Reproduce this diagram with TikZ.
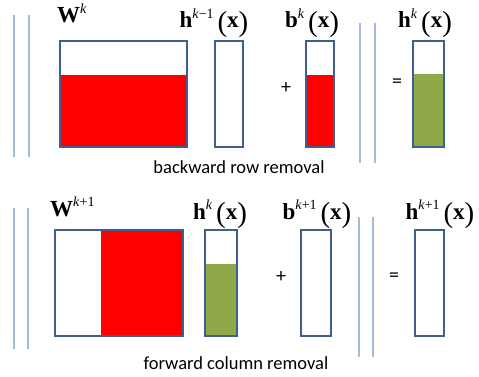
\documentclass[tikz,border=0pt]{standalone}
\usepackage{fontspec}
\setmainfont{Liberation Serif}
\newfontfamily\calfont{Carlito}
\definecolor{boxblue}{HTML}{3F5F8C}
\definecolor{sepblue}{HTML}{A3BCDD}
\definecolor{olivegreen}{HTML}{8EA84A}
\newcommand\mysup[1]{\raisebox{0.42em}{\fontsize{14}{14}\selectfont #1}}
\newcommand\mypar[1]{\raisebox{-0.17em}{\fontsize{29}{29}\selectfont #1}}
\newcommand\ofx{\,\mypar{(}\textbf{x}\mypar{)}}
\begin{document}
\begin{tikzpicture}[x=1pt,y=-1pt,
  mbox/.style={draw=boxblue,line width=2.6pt,rectangle,inner sep=0pt},
  sep/.style={draw=sepblue,line width=1.6pt},
  lbl/.style={anchor=base,inner sep=0pt,font=\fontsize{23}{23}\selectfont},
  op/.style={inner sep=0pt,font=\calfont\fontsize{20}{20}\selectfont},
  captxt/.style={anchor=base,inner sep=0pt,font=\calfont\fontsize{18.5}{18.5}\selectfont}]
\useasboundingbox (0,0) rectangle (479,377);
% ---------- top row ----------
\coordinate (s1a) at (14,15); \coordinate (s1b) at (14,157);
\coordinate (s2a) at (29,15); \coordinate (s2b) at (29,157);
\coordinate (s3a) at (360,23); \coordinate (s3b) at (360,163);
\coordinate (s4a) at (375,23); \coordinate (s4b) at (375,163);
\draw[sep] (s1a) -- (s1b); \draw[sep] (s2a) -- (s2b);
\draw[sep] (s3a) -- (s3b); \draw[sep] (s4a) -- (s4b);
\node[mbox,minimum width=127pt,minimum height=106pt] (W1) at (123.5,94) {};
\node[mbox,minimum width=28pt,minimum height=106pt] (H0) at (229,94) {};
\node[mbox,minimum width=28pt,minimum height=106pt] (B1) at (320,94) {};
\node[mbox,minimum width=31pt,minimum height=106pt] (H1) at (428.5,94) {};
\fill[red] (W1.south west) rectangle (W1.east |- 0,75);
\fill[red] (B1.south west) rectangle (B1.east |- 0,75);
\fill[olivegreen] (H1.south west) rectangle (H1.east |- 0,74);
\node[mbox,minimum width=127pt,minimum height=106pt] at (W1) {};
\node[mbox,minimum width=28pt,minimum height=106pt] at (B1) {};
\node[mbox,minimum width=31pt,minimum height=106pt] at (H1) {};
\node[lbl,anchor=base west] (lW1) at (57,23) {\textbf{W}\mysup{\textit{k}}};
\node[lbl] (lH0) at (214,28) {\textbf{h}\mysup{\textit{k}−1}\ofx};
\node[lbl] (lB1) at (312,28) {\textbf{b}\mysup{\textit{k}}\ofx};
\node[lbl] (lH1) at (425,28) {\textbf{h}\mysup{\textit{k}}\ofx};
\node[op] (plus1) at (286,88) {+};
\node[op] (eq1) at (397,83) {=};
\node[captxt] (cap1) at (239,173) {backward row removal};
% ---------- bottom row ----------
\coordinate (t1a) at (14,208); \coordinate (t1b) at (14,349);
\coordinate (t2a) at (28,208); \coordinate (t2b) at (28,349);
\coordinate (t3a) at (359,217); \coordinate (t3b) at (359,357);
\coordinate (t4a) at (373,217); \coordinate (t4b) at (373,357);
\draw[sep] (t1a) -- (t1b); \draw[sep] (t2a) -- (t2b);
\draw[sep] (t3a) -- (t3b); \draw[sep] (t4a) -- (t4b);
\node[mbox,minimum width=128pt,minimum height=106pt] (W2) at (119,283) {};
\node[mbox,minimum width=32pt,minimum height=106pt] (H2) at (221,283) {};
\node[mbox,minimum width=30pt,minimum height=106pt] (B2) at (316,283) {};
\node[mbox,minimum width=29pt,minimum height=106pt] (H3) at (429.5,283) {};
\fill[red] (W2.south east) rectangle (W2.north -| 101,0);
\fill[olivegreen] (H2.south west) rectangle (H2.east |- 0,264);
\node[mbox,minimum width=128pt,minimum height=106pt] at (W2) {};
\node[mbox,minimum width=32pt,minimum height=106pt] at (H2) {};
\node[lbl,anchor=base west] (lW2) at (50,216) {\textbf{W}\mysup{\textit{k}+1}};
\node[lbl] (lH2) at (220,219) {\textbf{h}\mysup{\textit{k}}\ofx};
\node[lbl] (lB2) at (317,219) {\textbf{b}\mysup{\textit{k}+1}\ofx};
\node[lbl] (lH3) at (440,219) {\textbf{h}\mysup{\textit{k}+1}\ofx};
\node[op] (plus2) at (281,277) {+};
\node[op] (eq2) at (394,277) {=};
\node[captxt] (cap2) at (236,369) {forward column removal};
\end{tikzpicture}
\end{document}
